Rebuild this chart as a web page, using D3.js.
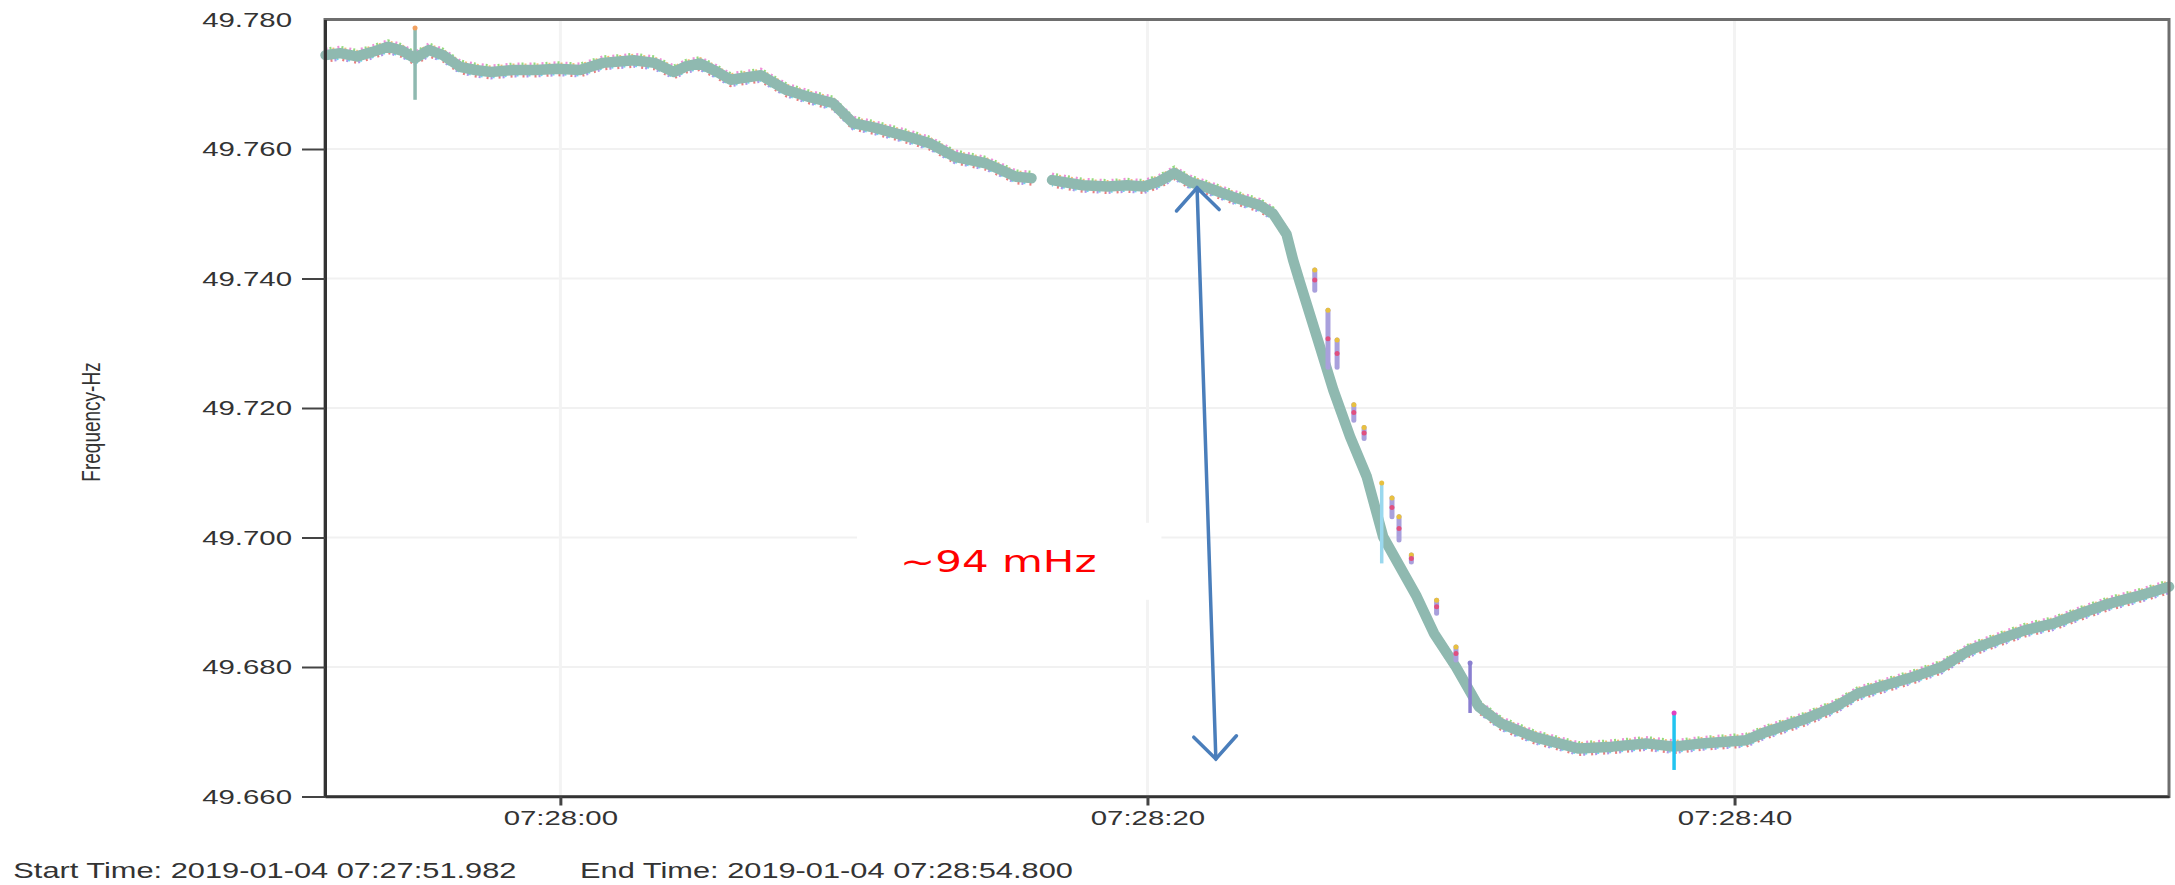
<!DOCTYPE html>
<html>
<head>
<meta charset="utf-8">
<script src="https://cdn.jsdelivr.net/npm/d3@7"></script>
<style>
  html, body { margin: 0; padding: 0; background: #fff; }
  svg { display: block; }
</style>
</head>
<body>
<div id="chart"></div>
<script>
// seconds after 07:27:00 on 2019-01-04, and measured frequency (Hz)
var secs = [52.00, 52.50, 53.07, 53.60, 54.13, 54.60, 55.05, 55.52, 56.00, 56.58,
            57.10, 57.64, 58.40, 59.17, 59.90, 60.67, 61.45, 62.00, 62.50, 63.20,
            63.87, 64.30, 64.76, 65.30, 65.80, 66.83, 67.71, 68.50, 69.28, 69.97,
            70.70, 71.36, 72.00, 72.58, 73.44, 74.49, 75.00, 75.52, 76.05, 76.40,
            76.75, 77.79, 78.65, 79.30, 79.88, 80.40, 80.92, 81.45, 82.13, 82.91,
            83.83, 84.28, 84.74, 84.96, 85.20, 85.77, 86.33, 86.90, 87.47, 88.03,
            88.60, 89.17, 89.76, 90.51, 91.28, 92.04, 93.17, 94.70, 95.84, 96.98,
            97.94, 98.88, 100.40, 100.97, 102.30, 103.44, 104.20, 106.10, 107.06, 108.00,
            108.96, 109.90, 110.85, 111.80, 112.76, 113.70, 114.80];
var freq = [49.7745, 49.7748, 49.7743, 49.7750, 49.7758, 49.7752, 49.7740, 49.7753, 49.7745, 49.7727,
            49.7722, 49.7719, 49.7722, 49.7722, 49.7724, 49.7722, 49.7733, 49.7735, 49.7737, 49.7733,
            49.7719, 49.7728, 49.7732, 49.7720, 49.7707, 49.7714, 49.7691, 49.7680, 49.7671, 49.7640,
            49.7633, 49.7625, 49.7617, 49.7609, 49.7588, 49.7578, 49.7568, 49.7557, 49.7555, null,
            49.7552, 49.7544, 49.7542, 49.7544, 49.7542, 49.7550, 49.7563, 49.7549, 49.7539, 49.7526,
            49.7513, 49.7500, 49.7468, 49.7429, 49.7393, 49.7310, 49.7228, 49.7156, 49.7094, 49.7001,
            49.6955, 49.6909, 49.6852, 49.6800, 49.6739, 49.6713, 49.6692, 49.6674, 49.6677, 49.6682,
            49.6677, 49.6682, 49.6687, 49.6698, 49.6718, 49.6739, 49.6759, 49.6785, 49.6800, 49.6826,
            49.6842, 49.6857, 49.6867, 49.6883, 49.6898, 49.6909, 49.6924];

// short vertical glitches: time, high, low
var spikeSecs = [55.05, 87.98, 90.99, 97.94];
var spikeHigh = [49.7787, 49.7084, 49.6806, 49.6729];
var spikeLow  = [49.7676, 49.6960, 49.6729, 49.6641];

// stray samples beside the fall
var straySecs = [85.70, 86.15, 86.46, 87.03, 87.38, 88.33, 88.57, 88.99, 89.85, 90.51];
var strayHigh = [49.7413, 49.7351, 49.7305, 49.7205, 49.7170, 49.7061, 49.7032, 49.6973, 49.6903, 49.6831];
var strayLow  = [49.7382, 49.7263, 49.7263, 49.7181, 49.7153, 49.7032, 49.6996, 49.6962, 49.6883, 49.6811];

var yTicks = [49.66, 49.68, 49.70, 49.72, 49.74, 49.76, 49.78];
var xTickSecs = [60, 80, 100];
var startSec = 51.982, endSec = 114.800;

// annotation: ~94 mHz drop
var arrowSecs = [81.69, 82.33];
var arrowFreq = [49.7540, 49.6658];
var labelSec = 71.57, labelFreq = 49.6947;
var labelText = "~94 mHz";

var W = 2175, H = 885;
var S = 1.4; // text looks stretched sideways in the original
var base = new Date(2019, 0, 4, 7, 27, 0, 0).getTime();
function toDate(s) { return new Date(base + Math.round(s * 1000)); }

var x = d3.scaleTime()
  .domain([toDate(startSec), toDate(endSec)])
  .range([325, 2169]);
var y = d3.scaleLinear()
  .domain([49.66, 49.78])
  .range([796.5, 19.5]);

var svg = d3.select("#chart").append("svg")
  .attr("width", W)
  .attr("height", H);

var root = svg.append("g");

// grid
root.append("g").selectAll("line")
  .data(yTicks.slice(1, -1))
  .enter().append("line")
  .attr("x1", x.range()[0]).attr("x2", x.range()[1])
  .attr("y1", function(d) { return y(d); })
  .attr("y2", function(d) { return y(d); })
  .attr("stroke", "#f1f1f1").attr("stroke-width", 2);
root.append("g").selectAll("line")
  .data(xTickSecs)
  .enter().append("line")
  .attr("x1", function(d) { return x(toDate(d)); })
  .attr("x2", function(d) { return x(toDate(d)); })
  .attr("y1", y.range()[1]).attr("y2", y.range()[0])
  .attr("stroke", "#f3f3f3").attr("stroke-width", 3);

// label box (white, hides the grid behind the text)
var lx = x(toDate(labelSec)), ly = y(labelFreq);
var label = root.append("text")
  .attr("transform", "translate(" + lx + "," + ly + ") scale(" + S + ",1)")
  .style("font-family", "'DejaVu Sans', Verdana, sans-serif")
  .style("font-size", "30px")
  .attr("fill", "#ff0000")
  .text(labelText);
var lw = label.node().getComputedTextLength() * S;
root.insert("rect", "text")
  .attr("x", lx - 43).attr("y", ly - 49)
  .attr("width", lw + 108).attr("height", 77)
  .attr("fill", "#fff");

// data trace
var pts = secs.map(function(s, i) { return { d: toDate(s), f: freq[i] }; });
var line = d3.line()
  .defined(function(p) { return p.f != null; })
  .x(function(p) { return x(p.d); })
  .y(function(p) { return y(p.f); });

var trace = root.append("g");
var fringe = [
  { c: "#e85fc8", dy: -6, off: 0 },
  { c: "#8c6be0", dy: 6, off: 3 },
  { c: "#f0a040", dy: -5, off: 5 },
  { c: "#66cc44", dy: -6, off: 8 },
  { c: "#30c8e8", dy: 5, off: 1 },
  { c: "#e04848", dy: 6, off: 7 }
];
fringe.forEach(function(fr) {
  trace.append("path")
    .datum(pts)
    .attr("d", line)
    .attr("transform", "translate(0," + fr.dy + ")")
    .attr("fill", "none")
    .attr("stroke", fr.c)
    .attr("stroke-width", 3)
    .attr("stroke-dasharray", "2,10")
    .attr("stroke-dashoffset", fr.off)
    .attr("opacity", 0.7);
});
trace.append("path")
  .datum(pts)
  .attr("d", line)
  .attr("fill", "none")
  .attr("stroke", "#8fb9b0")
  .attr("stroke-width", 10.5)
  .attr("stroke-linejoin", "round")
  .attr("stroke-linecap", "round");

// stray samples
var strayColors = ["#e8c040", "#e05080", "#9a7ad8"];
straySecs.forEach(function(s, i) {
  var sx = x(toDate(s)), y1 = y(strayHigh[i]), y2 = y(strayLow[i]);
  var g = trace.append("g");
  g.append("line").attr("x1", sx).attr("x2", sx).attr("y1", y1).attr("y2", y2)
    .attr("stroke", "#a9a0dc").attr("stroke-width", 5).attr("stroke-linecap", "round");
  g.append("circle").attr("cx", sx).attr("cy", y1).attr("r", 2.5).attr("fill", strayColors[0]);
  g.append("circle").attr("cx", sx).attr("cy", (y1 + y2) / 2).attr("r", 2.5).attr("fill", strayColors[1]);
});

// spikes
var spikeColors = ["#8fb9b0", "#9ad8ee", "#8a7fd0", "#22c4f0"];
var spikeTips = ["#f0a060", "#e8c040", "#8a7fd0", "#e040c0"];
spikeSecs.forEach(function(s, i) {
  var sx = x(toDate(s));
  trace.append("line")
    .attr("x1", sx).attr("x2", sx)
    .attr("y1", y(spikeHigh[i])).attr("y2", y(spikeLow[i]))
    .attr("stroke", spikeColors[i]).attr("stroke-width", 3.5);
  trace.append("circle").attr("cx", sx).attr("cy", y(spikeHigh[i])).attr("r", 2.5).attr("fill", spikeTips[i]);
});

// frame
root.append("rect")
  .attr("x", x.range()[0]).attr("y", y.range()[1])
  .attr("width", x.range()[1] - x.range()[0])
  .attr("height", y.range()[0] - y.range()[1])
  .attr("fill", "none").attr("stroke", "#6e6e6e").attr("stroke-width", 3);

// axes
var yAxis = d3.axisLeft(y)
  .tickValues(yTicks)
  .tickFormat(d3.format(".3f"))
  .tickSize(23).tickPadding(10).tickSizeOuter(0);
var gy = root.append("g").attr("transform", "translate(" + x.range()[0] + ",0)").call(yAxis);
gy.select(".domain").attr("stroke", "#333").attr("stroke-width", 3);
gy.selectAll(".tick line").attr("stroke", "#444").attr("stroke-width", 2)
  .filter(function(d) { return d === 49.78; }).remove();
gy.selectAll(".tick text")
  .attr("x", -33 / S)
  .attr("transform", "scale(" + S + ",1)")
  .style("font-family", "'Liberation Sans', Arial, sans-serif")
  .style("font-size", "21px")
  .attr("fill", "#333");

var xAxis = d3.axisBottom(x)
  .tickValues(xTickSecs.map(toDate))
  .tickFormat(d3.timeFormat("%H:%M:%S"))
  .tickSize(9).tickSizeOuter(0);
var gx = root.append("g").attr("transform", "translate(0," + y.range()[0] + ")").call(xAxis);
gx.select(".domain").attr("stroke", "#333").attr("stroke-width", 2.5);
gx.selectAll(".tick line").attr("stroke", "#444").attr("stroke-width", 3);
gx.selectAll(".tick text")
  .attr("y", 28.5).attr("dy", 0)
  .attr("transform", "scale(" + S + ",1)")
  .style("font-family", "'Liberation Sans', Arial, sans-serif")
  .style("font-size", "21px")
  .attr("fill", "#333");

// y title
root.append("text")
  .attr("transform", "translate(99.5,422) scale(" + S + ",1) rotate(-90)")
  .attr("text-anchor", "middle")
  .style("font-family", "'Liberation Sans', Arial, sans-serif")
  .style("font-size", "19px")
  .attr("fill", "#333")
  .text("Frequency-Hz");

// arrow with open heads at both ends
var ax1 = x(toDate(arrowSecs[0])), ay1 = y(arrowFreq[0]);
var ax2 = x(toDate(arrowSecs[1])), ay2 = y(arrowFreq[1]);
var arrow = root.append("g")
  .attr("stroke", "#4a7ebb").attr("stroke-width", 3.5).attr("fill", "none")
  .attr("stroke-linecap", "round");
arrow.append("line").attr("x1", ax1).attr("y1", ay1).attr("x2", ax2).attr("y2", ay2);
function head(tx, ty, fx, fy) {
  var a = Math.atan2(fy - ty, fx - tx), len = 31, spread = 0.76;
  arrow.append("polyline").attr("points", [
    [tx + len * Math.cos(a - spread), ty + len * Math.sin(a - spread)],
    [tx, ty],
    [tx + len * Math.cos(a + spread), ty + len * Math.sin(a + spread)]
  ].map(function(p) { return p.join(","); }).join(" "));
}
head(ax1, ay1, ax2, ay2);
head(ax2, ay2, ax1, ay1);

// footer: start / end time
var fmt = d3.timeFormat("%Y-%m-%d %H:%M:%S.%L");
var foot = [
  { x: 13.3, t: "Start Time: " + fmt(toDate(startSec)) },
  { x: 580, t: "End Time: " + fmt(toDate(endSec)) }
];
root.selectAll(".foot")
  .data(foot)
  .enter().append("text")
  .attr("class", "foot")
  .attr("transform", function(d) { return "translate(" + d.x + ",878) scale(" + S + ",1)"; })
  .style("font-family", "'Liberation Sans', Arial, sans-serif")
  .style("font-size", "22px")
  .attr("fill", "#333")
  .text(function(d) { return d.t; });
</script>
</body>
</html>
